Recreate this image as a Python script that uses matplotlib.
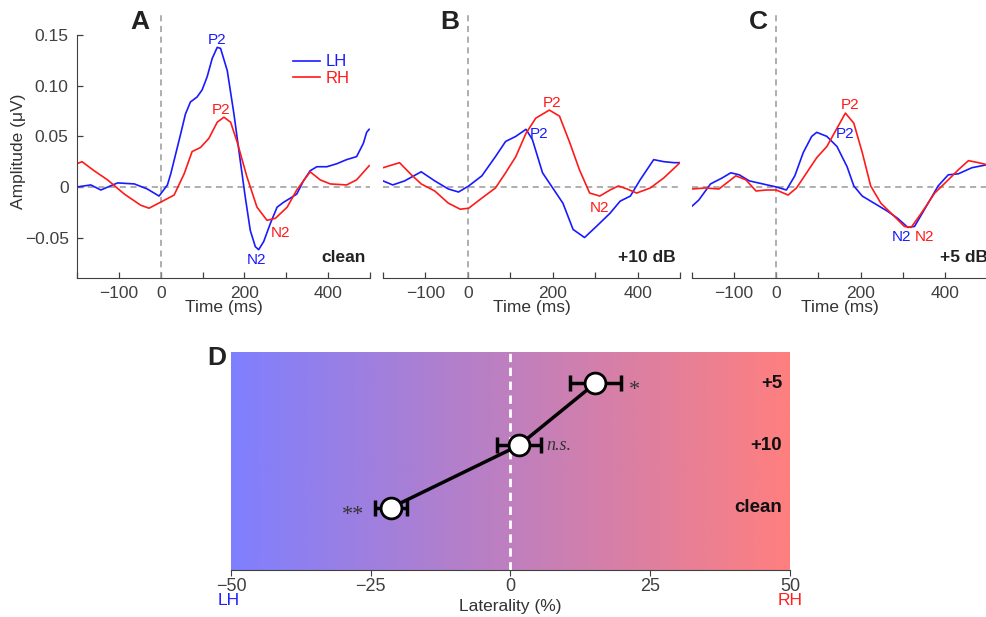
import numpy as np
import matplotlib
matplotlib.use('Agg')
from matplotlib import pyplot as plt
from matplotlib.colors import LinearSegmentedColormap

plt.rcParams['font.family'] = ['Liberation Sans', 'DejaVu Sans']

# ---- ERP data ----
# panel A (clean)
tA_lh = [-200, -167, -143, -103, -63, -32, -4, 16, 24, 36, 48, 59, 71, 87, 99, 111, 123, 135, 143,
         159, 175, 190, 202, 214, 226, 234, 246, 262, 278, 294, 310, 325, 341, 357, 373, 397, 421,
         444, 468, 484, 492, 498]
vA_lh = [0, 0.002, -0.003, 0.004, 0.003, -0.002, -0.009, 0.002, 0.013, 0.033, 0.053, 0.072, 0.084,
         0.089, 0.096, 0.109, 0.127, 0.138, 0.137, 0.115, 0.072, 0.026, -0.01, -0.043, -0.059, -0.062,
         -0.054, -0.036, -0.02, -0.015, -0.011, -0.007, 0.006, 0.016, 0.02, 0.02, 0.023, 0.027, 0.03,
         0.043, 0.054, 0.057]
tA_rh = [-200, -188, -159, -127, -87, -48, -28, 0, 32, 56, 75, 95, 115, 135, 151, 167, 183, 206,
         230, 254, 274, 302, 325, 357, 381, 405, 444, 468, 498]
vA_rh = [0.023, 0.025, 0.016, 0.007, -0.007, -0.018, -0.021, -0.015, -0.008, 0.013, 0.035, 0.039,
         0.048, 0.064, 0.069, 0.064, 0.044, 0.01, -0.02, -0.033, -0.031, -0.02, -0.003, 0.015, 0.007,
         0.003, 0.002, 0.007, 0.021]

# panel B (+10 dB)
tB_lh = [-200, -177, -149, -110, -78, -46, -22, 2, 33, 65, 89, 113, 137, 152, 176, 200, 224, 248,
         275, 303, 335, 359, 383, 406, 438, 462, 486, 500]
vB_lh = [0.006, 0.002, 0.006, 0.015, 0.006, -0.002, -0.005, 0.001, 0.011, 0.03, 0.045, 0.05, 0.057,
         0.047, 0.014, -0.001, -0.016, -0.042, -0.05, -0.039, -0.026, -0.014, -0.009, 0.007, 0.027,
         0.025, 0.024, 0.024]
tB_rh = [-200, -161, -133, -110, -78, -46, -18, 2, 33, 65, 89, 113, 137, 160, 192, 216, 240, 263,
         287, 311, 335, 355, 375, 398, 430, 462, 500]
vB_rh = [0.019, 0.024, 0.012, 0.003, -0.004, -0.016, -0.022, -0.021, -0.011, -0.001, 0.014, 0.03,
         0.053, 0.068, 0.076, 0.07, 0.044, 0.017, -0.006, -0.009, -0.003, 0.001, -0.002, -0.006,
         -0.001, 0.009, 0.024]

# panel C (+5 dB)
tC_lh = [-200, -184, -156, -128, -108, -88, -64, -32, 0, 24, 44, 64, 84, 96, 120, 144, 168, 184,
         204, 232, 264, 288, 312, 328, 352, 384, 408, 432, 464, 500]
vC_lh = [-0.019, -0.013, 0.003, 0.009, 0.014, 0.012, 0.006, 0.003, 0, -0.003, 0.011, 0.034, 0.05,
         0.054, 0.05, 0.04, 0.02, 0.001, -0.009, -0.016, -0.024, -0.031, -0.04, -0.039, -0.022,
         0.001, 0.012, 0.013, 0.019, 0.022]
tC_rh = [-200, -168, -136, -96, -72, -48, -24, 0, 28, 48, 72, 96, 120, 144, 164, 184, 204, 224,
         248, 280, 304, 320, 344, 376, 408, 432, 456, 480, 500]
vC_rh = [-0.002, -0.001, -0.002, 0.011, 0.007, -0.004, -0.003, -0.003, -0.008, -0.001, 0.014, 0.029,
         0.04, 0.058, 0.073, 0.063, 0.034, 0.001, -0.016, -0.029, -0.039, -0.04, -0.026, -0.006,
         0.007, 0.017, 0.026, 0.024, 0.022]

# ---- laterality data (panel D) ----
conditions = ['clean', '+10', '+5']
laterality = [-21.4, 1.5, 15.2]
lat_err = [2.8, 4.0, 4.5]
signif = ['**', 'n.s.', '*']

blue = '#1a1aff'
red = '#ff1a1a'
grey = '#404040'
lfs = 12.5  # tick / axis label size

fig = plt.figure(figsize=(9.87, 6.17), dpi=100)
W, H = 987.0, 617.0


def px_axes(l, t, r, b):
    return fig.add_axes([l / W, 1 - b / H, (r - l) / W, (b - t) / H])


axA = px_axes(77, 15, 370, 278)
axB = px_axes(383, 15, 680, 278)
axC = px_axes(692, 15, 987, 278)

panels = [
    (axA, tA_lh, vA_lh, tA_rh, vA_rh, 'clean'),
    (axB, tB_lh, vB_lh, tB_rh, vB_rh, '+10 dB'),
    (axC, tC_lh, vC_lh, tC_rh, vC_rh, '+5 dB'),
]

for ax, tl, vl, tr, vr, cond in panels:
    ax.axhline(0, color='#999999', ls='--', lw=1.1, dashes=(4, 3))
    ax.axvline(0, color='#999999', ls='--', lw=1.1, dashes=(4, 3))
    ax.plot(tl, vl, color=blue, lw=1.2, label='LH')
    ax.plot(tr, vr, color=red, lw=1.2, label='RH')
    ax.set_xlim(-200, 500)
    ax.set_ylim(-0.09, 0.17)
    ax.set_xticks(np.arange(-200, 501, 100))
    ax.set_xticklabels(['', '\u2212100', '0', '', '200', '', '400', ''])
    ax.tick_params(axis='both', direction='in', length=4, colors=grey, labelsize=lfs, width=0.9)
    ax.tick_params(axis='x', pad=6)
    for s in ['top', 'right']:
        ax.spines[s].set_visible(False)
    ax.spines['bottom'].set_color(grey)
    ax.spines['bottom'].set_bounds(-200, 500)
    ax.set_xlabel('Time (ms)', fontsize=lfs, color='#333333', labelpad=-1)
    ax.text(490, -0.07, cond, ha='right', va='center', fontsize=12.5, fontweight='bold', color='#222222')
    ax.patch.set_alpha(0)

axA.spines['left'].set_color(grey)
axA.spines['left'].set_bounds(-0.09, 0.15)
axA.set_yticks([-0.05, 0, 0.05, 0.10, 0.15])
axA.set_yticklabels(['\u22120.05', '0', '0.05', '0.10', '0.15'])
axA.tick_params(axis='y', pad=6)
axA.set_ylabel('Amplitude (\u03bcV)', fontsize=lfs, color='#333333')
axA.yaxis.set_label_coords(-0.175, 0.48)
for ax in [axB, axC]:
    ax.spines['left'].set_visible(False)
    ax.set_yticks([])
axC.texts[-1].set_x(503)

axA.legend(loc='upper left', bbox_to_anchor=(0.737, 0.85), frameon=False, fontsize=12,
           handlelength=1.6, handletextpad=0.35, labelspacing=0.1, borderaxespad=0, borderpad=0)
for txt, c in zip(axA.get_legend().get_texts(), [blue, red]):
    txt.set_color(c)

# peak labels
fs = 11
axA.text(135, 0.1455, 'P2', color=blue, ha='center', va='center', fontsize=fs)
axA.text(143, 0.076, 'P2', color=red, ha='center', va='center', fontsize=fs)
axA.text(287, -0.046, 'N2', color=red, ha='center', va='center', fontsize=fs)
axA.text(230, -0.072, 'N2', color=blue, ha='center', va='center', fontsize=fs)
axB.text(198, 0.083, 'P2', color=red, ha='center', va='center', fontsize=fs)
axB.text(168, 0.052, 'P2', color=blue, ha='center', va='center', fontsize=fs)
axB.text(311, -0.021, 'N2', color=red, ha='center', va='center', fontsize=fs)
axC.text(176, 0.081, 'P2', color=red, ha='center', va='center', fontsize=fs)
axC.text(164, 0.052, 'P2', color=blue, ha='center', va='center', fontsize=fs)
axC.text(296, -0.049, 'N2', color=blue, ha='center', va='center', fontsize=fs)
axC.text(352, -0.049, 'N2', color=red, ha='center', va='center', fontsize=fs)

for letter, x in zip(['A', 'B', 'C'], [140, 450, 758]):
    fig.text(x / W, 1 - 22 / H, letter, ha='center', va='center', fontsize=19, fontweight='bold',
             color='#222222')

# ---- panel D ----
axD = px_axes(231, 352, 790, 570)
cmap = LinearSegmentedColormap.from_list('lr', ['#7f7fff', '#ff7f7f'])
grad = np.linspace(0, 1, 256).reshape(1, -1)
axD.imshow(grad, cmap=cmap, extent=[-50, 50, 0, 3.5], aspect='auto', zorder=0)
axD.axvline(0, color='white', ls='--', lw=2, dashes=(3, 2), zorder=1)
ypos = np.arange(1, len(conditions) + 1)
axD.plot(laterality, ypos, color='black', lw=2.5, zorder=2)
axD.errorbar(laterality, ypos, xerr=lat_err, fmt='none', ecolor='black', elinewidth=2.5,
             capsize=6, capthick=2.5, zorder=3)
axD.plot(laterality, ypos, 'o', ms=15, mfc='white', mec='black', mew=2, zorder=4)
axD.set_xlim(-50, 50)
axD.set_ylim(0, 3.5)
axD.set_yticks([])
axD.set_xticks([-50, -25, 0, 25, 50])
axD.set_xticklabels(['\u221250', '\u221225', '0', '25', '50'])
axD.tick_params(axis='x', direction='out', length=4, colors=grey, labelsize=13, pad=2)
for s in ['top', 'right', 'left']:
    axD.spines[s].set_visible(False)
axD.spines['bottom'].set_color(grey)

for y, lab in zip(ypos, conditions):
    axD.text(48.6, y, lab, ha='right', va='center', fontsize=13.5, fontweight='bold', color='#111111')

axD.text(-28.2, 0.88, signif[0], ha='center', va='center', fontsize=16, family='Liberation Serif',
         color='#333333')
axD.text(6.4, 2, signif[1], ha='left', va='center', fontsize=13, family='Liberation Serif',
         style='italic', color='#333333')
axD.text(22.2, 2.88, signif[2], ha='center', va='center', fontsize=16, family='Liberation Serif',
         color='#333333')

trans = axD.get_xaxis_transform()
axD.text(-50.5, -0.142, 'LH', transform=trans, ha='center', va='center', fontsize=12.5, color='#2020ff')
axD.text(50, -0.142, 'RH', transform=trans, ha='center', va='center', fontsize=12.5, color='#ff2020')
axD.set_xlabel('Laterality (%)', fontsize=12.5, color='#333333', labelpad=3)

fig.text(217 / W, 1 - 358 / H, 'D', ha='center', va='center', fontsize=19, fontweight='bold',
         color='#222222')

plt.savefig('out.png', dpi=100)
